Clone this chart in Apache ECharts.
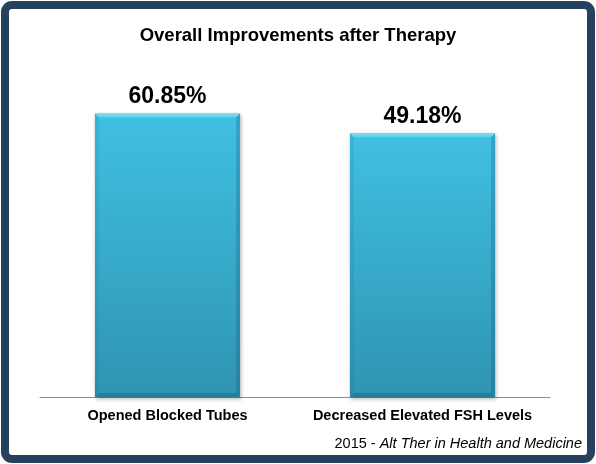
<!DOCTYPE html>
<html>
<head>
<meta charset="utf-8">
<script src="https://cdn.jsdelivr.net/npm/echarts@6/dist/echarts.min.js"></script>
<style>
html,body{margin:0;padding:0;background:#fff;}
#chart{width:596px;height:464px;}
</style>
</head>
<body>
<div id="chart"></div>
<script>
var categories = ['Opened Blocked Tubes', 'Decreased Elevated FSH Levels'];
var values = [60.85, 49.18];
var titleText = 'Overall Improvements after Therapy';
var sourceYear = '2015 - ';
var sourceName = 'Alt Ther in Health and Medicine';

var Y_MIN = -105, Y_MAX = 95;
var FONT = '"Liberation Sans", Arial, sans-serif';

var chart = echarts.init(document.getElementById('chart'), null, {renderer: 'canvas'});

function renderItem(params, api) {
  var idx = api.value(0);
  var v = api.value(1);
  var top = api.coord([idx, v]);
  var base = api.coord([idx, Y_MIN]);
  var bw = api.size([1, 0])[0] * 0.569;
  var x0 = top[0] - bw / 2, x1 = top[0] + bw / 2;
  var y0 = top[1], y1 = base[1];
  var b = 4;
  return {
    type: 'group',
    children: [
      {
        type: 'rect',
        shape: {x: x0, y: y0, width: bw, height: y1 - y0},
        style: {
          fill: new echarts.graphic.LinearGradient(0, 0, 0, 1, [
            {offset: 0, color: '#40c0e3'},
            {offset: 1, color: '#2f94b1'}
          ]),
          shadowBlur: 4,
          shadowOffsetX: 1,
          shadowOffsetY: 2,
          shadowColor: 'rgba(0,0,0,0.3)'
        }
      },
      {
        type: 'polygon',
        shape: {points: [[x0, y0], [x1, y0], [x1 - b, y0 + b], [x0 + b, y0 + b]]},
        style: {fill: new echarts.graphic.LinearGradient(0, 0, 0, 1, [
          {offset: 0, color: '#7ce0f5'},
          {offset: 1, color: '#58cfec'}
        ])}
      },
      {
        type: 'polygon',
        shape: {points: [[x0, y0], [x0 + b, y0 + b], [x0 + b, y1 - b], [x0, y1]]},
        style: {fill: 'rgba(20,90,120,0.12)'}
      },
      {
        type: 'polygon',
        shape: {points: [[x1, y0], [x1 - b, y0 + b], [x1 - b, y1 - b], [x1, y1]]},
        style: {fill: 'rgba(10,70,100,0.22)'}
      },
      {
        type: 'polygon',
        shape: {points: [[x0, y1], [x0 + b, y1 - b], [x1 - b, y1 - b], [x1, y1]]},
        style: {fill: 'rgba(10,60,90,0.25)'}
      },
      {
        type: 'text',
        style: {
          x: top[0],
          y: y0 - 5,
          text: v.toFixed(2) + '%',
          align: 'center',
          verticalAlign: 'bottom',
          fill: '#000',
          font: 'bold 23px ' + FONT
        }
      }
    ]
  };
}

var option = {
  animation: false,
  graphic: [
    {
      type: 'rect',
      z: -10,
      shape: {x: 5, y: 5, width: 586, height: 454, r: 7},
      style: {fill: '#fff', stroke: '#264060', lineWidth: 8}
    },
    {
      type: 'text',
      right: 14,
      top: 436,
      style: {
        text: '{a|' + sourceYear + '}{b|' + sourceName + '}',
        rich: {
          a: {fontFamily: FONT, fontSize: 14.5, color: '#000'},
          b: {fontFamily: FONT, fontSize: 14.5, fontStyle: 'italic', color: '#000'}
        }
      }
    }
  ],
  title: {
    text: titleText,
    left: 'center',
    top: 21,
    textStyle: {fontFamily: FONT, fontSize: 18.5, fontWeight: 'bold', color: '#000'}
  },
  grid: {left: 40, right: 46, top: 55, bottom: 67, containLabel: false},
  xAxis: {
    type: 'category',
    data: categories,
    axisLine: {show: true, onZero: false, lineStyle: {color: '#8c8c8c', width: 1}},
    axisTick: {show: false},
    axisLabel: {
      margin: 11,
      color: '#000',
      fontFamily: FONT,
      fontSize: 14.5,
      fontWeight: 'bold',
      interval: 0
    },
    splitLine: {show: false}
  },
  yAxis: {
    type: 'value',
    min: Y_MIN,
    max: Y_MAX,
    show: false,
    splitLine: {show: false}
  },
  series: [{
    type: 'custom',
    renderItem: renderItem,
    encode: {x: 0, y: 1},
    data: values.map(function (v, i) { return [i, v]; }),
    z: 2
  }]
};
chart.setOption(option);
</script>
</body>
</html>
